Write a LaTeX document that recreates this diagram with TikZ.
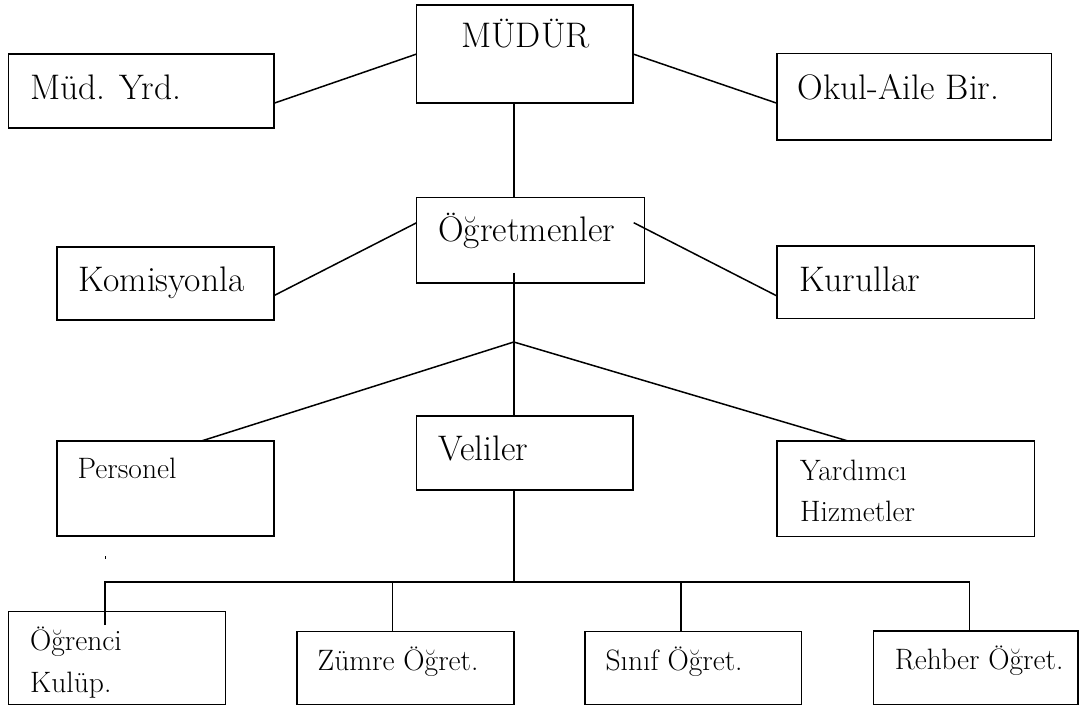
\documentclass[tikz,border=0pt]{standalone}
\usepackage{fontspec}
\setmainfont{Latin Modern Roman}
\usetikzlibrary{calc}
\begin{document}
\begin{tikzpicture}[x=1pt,y=-1pt,
  box/.style={draw, line width=1.5pt, inner sep=0pt, outer sep=0pt, anchor=north west},
  big/.style={inner sep=0pt, anchor=base west, font=\fontsize{35.5}{42}\selectfont},
  small/.style={inner sep=0pt, anchor=base west, font=\fontsize{29.5}{35}\selectfont},
  conn/.style={line width=1.5pt}]
\fill[white] (0,0) rectangle (1080,706);
\useasboundingbox (0,0) rectangle (1080,706);
% boxes
\node[box, minimum width=216.3pt, minimum height=98pt] (mudur) at (416.7,5) {};
\node[box, minimum width=265.2pt, minimum height=74pt] (mudyrd) at (8.6,54) {};
\node[box, minimum width=274.7pt, minimum height=86.5pt] (okul) at (777,53.5) {};
\node[box, minimum width=227.6pt, minimum height=85.4pt] (ogret) at (416.7,197.6) {};
\node[box, minimum width=217pt, minimum height=73.2pt] (komis) at (56.8,246.8) {};
\node[box, minimum width=257.5pt, minimum height=72.5pt] (kurul) at (777,246) {};
\node[box, minimum width=217pt, minimum height=95pt] (personel) at (56.8,441) {};
\node[box, minimum width=216.3pt, minimum height=74pt] (veliler) at (416.7,416) {};
\node[box, minimum width=257.5pt, minimum height=95.5pt] (yardimci) at (777,441) {};
\node[box, minimum width=216.9pt, minimum height=92.9pt] (ogrenci) at (8.6,611.6) {};
\node[box, minimum width=217pt, minimum height=72.9pt] (zumre) at (296.8,631.6) {};
\node[box, minimum width=216.9pt, minimum height=72.9pt] (sinif) at (584.8,631.6) {};
\node[box, minimum width=204.7pt, minimum height=73.5pt] (rehber) at (873.3,631) {};
% labels
\node[big] (tmudur) at (461,48) {MÜDÜR};
\node[big] (tmudyrd) at (30,100) {Müd. Yrd.};
\node[big] (tokul) at (797.6,100) {Okul-Aile Bir.};
\node[big] (togret) at (438,241.7) {Öğretmenler};
\node[big] (tkomis) at (78.5,291.6) {Komisyonla};
\node[big] (tkurul) at (799,291.6) {Kurullar};
\node[big] (tveliler) at (438,460) {Veliler};
\node[small] (tpersonel) at (77.5,478) {Personel};
\node[small] (tyard1) at (800,480.5) {Yardımcı};
\node[small] (tyard2) at (800,521) {Hizmetler};
\node[small] (togr1) at (30,650) {Öğrenci};
\node[small] (togr2) at (30,692.6) {Kulüp.};
\node[small] (tzumre) at (317.5,670) {Zümre Öğret.};
\node[small] (tsinif) at (605.4,670) {Sınıf Öğret.};
\node[small] (trehber) at (894.7,669) {Rehber Öğret.};
% connectors
\draw[conn] (mudur.west) -- ($(mudyrd.east)+(0,12.3)$);
\draw[conn] (mudur.east) -- ($(okul.west)+(0,6.5)$);
\draw[conn] ($(mudur.south west)+(97.1,0)$) -- ($(ogret.north west)+(97.1,0)$);
\draw[conn] ($(ogret.north west)+(0,25.1)$) -- ($(komis.east)+(0,12.3)$);
\draw[conn] ($(ogret.north east)+(-10.6,25.1)$) -- ($(kurul.west)+(0,13.75)$);
\coordinate (J) at (513.8,342);
\draw[conn] ($(ogret.north west)+(97.1,75)$) -- (J);
\draw[conn] (J) -- ($(personel.north west)+(144.6,0)$);
\draw[conn] (J) -- ($(yardimci.north west)+(71,0)$);
\draw[conn] (J) -- ($(veliler.north west)+(97.1,0)$);
\coordinate (busV) at (513.8,582);
\draw[conn] ($(veliler.south west)+(97.1,0)$) -- (busV);
\draw[conn] ($(ogrenci.north west)+(96.4,13.4)$) |- ($(rehber.north west)+(96.1,-49)$) -- ($(rehber.north west)+(96.1,0)$);
\draw[conn] ($(zumre.north west)+(95.8,0)$) -- ++(0,-49.6);
\draw[conn] ($(sinif.north west)+(96.4,0)$) -- ++(0,-49.6);
\coordinate (tick) at (105,556);
\draw[line width=0.8pt] (tick) -- ++(0,2.5);
\end{tikzpicture}
\end{document}
